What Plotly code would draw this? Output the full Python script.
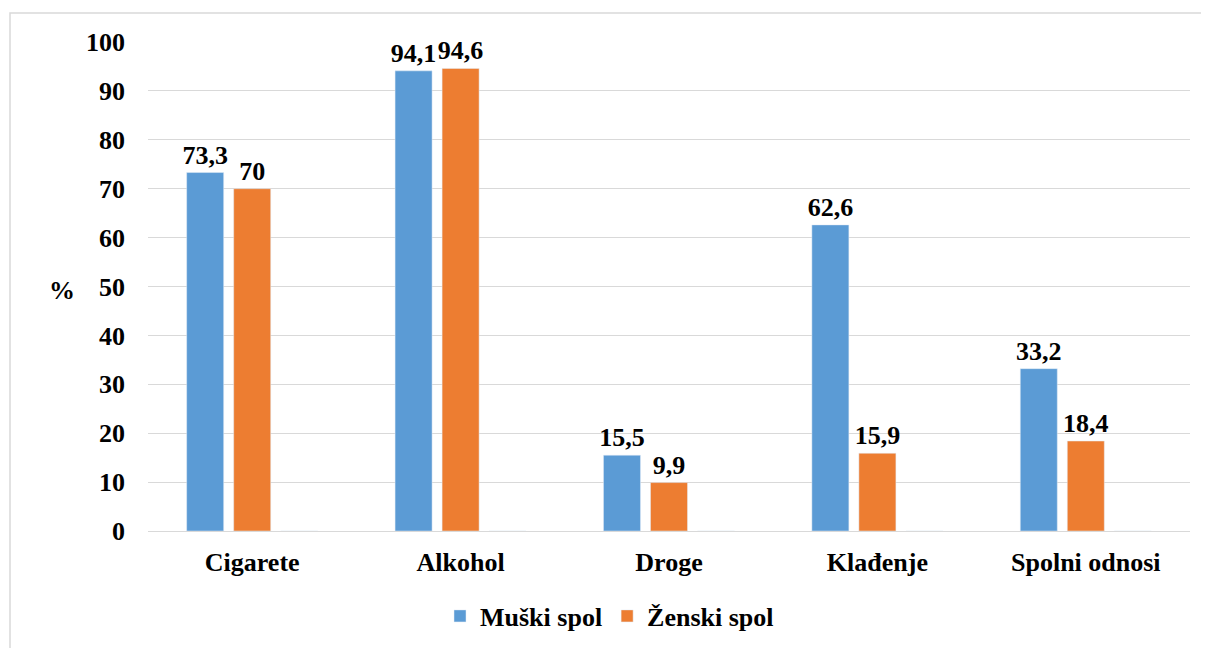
import plotly.graph_objects as go

categories = ["Cigarete", "Alkohol", "Droge", "Klađenje", "Spolni odnosi"]
muski = [73.3, 94.1, 15.5, 62.6, 33.2]
zenski = [70, 94.6, 9.9, 15.9, 18.4]
series_names = ["Muški spol", "Ženski spol"]
y_ticks = [0, 10, 20, 30, 40, 50, 60, 70, 80, 90, 100]

FONT = "Liberation Serif, Times New Roman, serif"
FS = 26

def lab(vals):
    return [str(v).replace(".", ",") for v in vals]

tf = dict(family=FONT, size=FS, color="black", weight="bold")

fig = go.Figure()
fig.add_trace(go.Bar(x=categories, y=muski, name=series_names[0], marker_color="#5B9BD5",
                     text=lab(muski), textposition="outside", textangle=0, cliponaxis=False,
                     constraintext="none", textfont=tf))
fig.add_trace(go.Bar(x=categories, y=zenski, name=series_names[1], marker_color="#ED7D31",
                     text=lab(zenski), textposition="outside", textangle=0, cliponaxis=False,
                     constraintext="none", textfont=tf))
# empty third series slot (as in the original spreadsheet chart)
fig.add_trace(go.Bar(x=categories, y=[0] * len(categories), name="", showlegend=False,
                     marker=dict(color="rgba(0,0,0,0)"), hoverinfo="skip"))

O = 8  # page body margin
W, H = 1209 - O, 648 - O
L, R, T, B = 148 - O, 1190 - O, 42 - O, 531 - O
pw, ph = R - L, B - T

def px(x):
    return (x - O - L) / pw

def py(y):
    return (B - (y - O)) / ph

fig.update_layout(
    width=W, height=H,
    margin=dict(l=L, r=W - R, t=T, b=H - B, pad=0, autoexpand=False),
    paper_bgcolor="white", plot_bgcolor="white",
    barmode="group", bargap=0.323, bargroupgap=0.213,
    font=tf,
    showlegend=True,
    legend=dict(orientation="h", x=px(440), xanchor="left", y=py(616), yanchor="middle",
                font=tf, itemwidth=30, traceorder="normal", tracegroupgap=0),
    xaxis=dict(showgrid=False, showline=False, ticks="", ticklabelstandoff=13, tickfont=tf,
               automargin=False),
    yaxis=dict(range=[0, 100], tickvals=y_ticks, showgrid=True, gridcolor="#d9d9d9", gridwidth=1.3,
               zeroline=True, zerolinecolor="#d9d9d9", zerolinewidth=1.3, showline=False, ticks="",
               ticklabelstandoff=22, tickfont=tf, automargin=False),
    shapes=[dict(type="rect", xref="paper", yref="paper",
                 x0=px(10), x1=px(1230), y0=py(670), y1=py(13),
                 line=dict(color="#d9d9d9", width=1.5), fillcolor="rgba(0,0,0,0)", layer="below")],
    annotations=[dict(text="%", xref="paper", yref="paper", x=px(62), y=py(290),
                      xanchor="center", yanchor="middle", showarrow=False, font=tf)],
)

fig.write_html("out.html")
